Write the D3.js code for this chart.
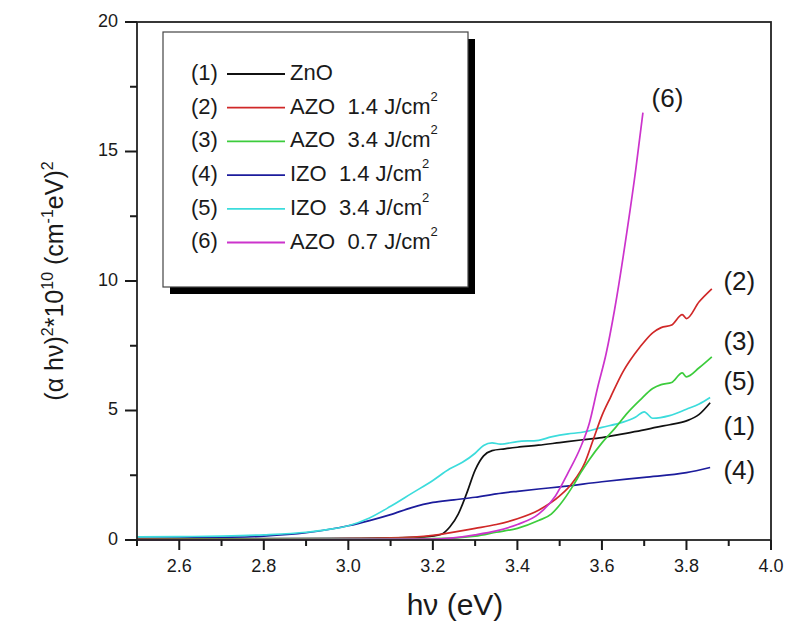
<!DOCTYPE html>
<html><head><meta charset="utf-8">
<script src="https://cdn.jsdelivr.net/npm/d3@7"></script>
<style>body{margin:0;background:#fff}svg{display:block}text{font-family:"Liberation Sans",Arial,sans-serif;fill:#1a1a1a;white-space:pre}</style>
</head><body><svg id="c" width="788" height="644"></svg>
<script>
// ----- data -----
const xTicks = [2.6, 2.8, 3.0, 3.2, 3.4, 3.6, 3.8, 4.0];
const xMinorTicks = [2.5, 2.7, 2.9, 3.1, 3.3, 3.5, 3.7, 3.9];
const yTicks = [0, 5, 10, 15, 20];
const yMinorTicks = [2.5, 7.5, 12.5, 17.5];
const seriesNames = ["ZnO", "AZO  1.4 J/cm", "AZO  3.4 J/cm", "IZO  1.4 J/cm", "IZO  3.4 J/cm", "AZO  0.7 J/cm"];
const seriesIds = ["(1)", "(2)", "(3)", "(4)", "(5)", "(6)"];
const seriesColors = ["#111111", "#d02828", "#3ccc3c", "#1c1c9c", "#3cdcdc", "#cc33cc"];
const s1 = [[2.5,0.05],[2.8,0.05],[3.0,0.06],[3.1,0.08],[3.18,0.12],[3.22,0.22],[3.24,0.5],[3.26,1.0],[3.28,1.8],[3.30,2.7],[3.32,3.25],[3.34,3.45],[3.37,3.52],[3.40,3.58],[3.45,3.66],[3.50,3.76],[3.55,3.86],[3.60,3.95],[3.65,4.1],[3.70,4.25],[3.73,4.36],[3.76,4.45],[3.80,4.6],[3.83,4.85],[3.856,5.3]];
const s2 = [[2.5,0.03],[2.9,0.04],[3.1,0.08],[3.2,0.18],[3.3,0.45],[3.35,0.6],[3.40,0.82],[3.45,1.15],[3.50,1.7],[3.53,2.2],[3.56,3.0],[3.58,3.9],[3.60,4.8],[3.62,5.5],[3.65,6.5],[3.69,7.45],[3.72,8.0],[3.74,8.2],[3.765,8.3],[3.79,8.7],[3.80,8.55],[3.83,9.2],[3.86,9.7]];
const s3 = [[2.5,0.02],[3.2,0.05],[3.3,0.15],[3.35,0.3],[3.40,0.45],[3.45,0.75],[3.48,1.0],[3.50,1.35],[3.53,2.05],[3.55,2.6],[3.57,3.1],[3.60,3.75],[3.63,4.3],[3.66,4.9],[3.69,5.4],[3.72,5.85],[3.74,6.0],[3.765,6.08],[3.79,6.45],[3.80,6.3],[3.83,6.65],[3.86,7.07]];
const s4 = [[2.5,0.06],[2.7,0.1],[2.8,0.15],[2.9,0.28],[3.0,0.55],[3.05,0.75],[3.10,0.98],[3.15,1.25],[3.20,1.45],[3.25,1.55],[3.30,1.65],[3.35,1.78],[3.40,1.88],[3.45,1.97],[3.50,2.05],[3.60,2.25],[3.70,2.42],[3.80,2.6],[3.856,2.8]];
const s5 = [[2.5,0.12],[2.6,0.13],[2.7,0.15],[2.8,0.2],[2.9,0.3],[2.95,0.4],[3.0,0.55],[3.05,0.85],[3.10,1.3],[3.15,1.8],[3.20,2.3],[3.24,2.75],[3.27,3.0],[3.30,3.35],[3.32,3.65],[3.34,3.75],[3.36,3.7],[3.40,3.8],[3.45,3.85],[3.48,3.98],[3.52,4.1],[3.55,4.15],[3.60,4.35],[3.65,4.55],[3.68,4.75],[3.70,4.95],[3.72,4.7],[3.76,4.8],[3.80,5.05],[3.83,5.25],[3.856,5.5]];
const s6 = [[2.5,0.0],[3.2,0.03],[3.3,0.2],[3.35,0.35],[3.40,0.6],[3.45,1.0],[3.49,1.7],[3.52,2.6],[3.55,3.6],[3.57,4.5],[3.59,5.9],[3.61,7.2],[3.63,8.9],[3.66,12.0],[3.68,14.3],[3.697,16.5]];
const allSeries = [s1, s2, s3, s4, s5, s6];
// curve end labels
const endLabels = [["(6)",3.755,17.0],["(2)",3.925,9.92],["(3)",3.925,7.6],["(5)",3.925,6.06],["(1)",3.925,4.32],["(4)",3.925,2.62]];

// ----- layout -----
const svg = d3.select("#c");
const L = 137, R = 771, T = 22, B = 540;
const x = d3.scaleLinear().domain([2.5, 4.0]).range([L, R]);
const y = d3.scaleLinear().domain([0, 20]).range([B, T]);
const axisColor = "#222";

// curves
const line = d3.line().x(d => x(d[0])).y(d => y(d[1])).curve(d3.curveMonotoneX);
const drawOrder = [0, 3, 4, 1, 2, 5];
drawOrder.forEach(i => {
  svg.append("path").datum(allSeries[i]).attr("d", line)
    .attr("fill", "none").attr("stroke", seriesColors[i]).attr("stroke-width", 1.7);
});

// frame
svg.append("rect").attr("x", L).attr("y", T).attr("width", R - L).attr("height", B - T)
  .attr("fill", "none").attr("stroke", axisColor).attr("stroke-width", 1.8);

// ticks (one path built from the scales)
const tickPath =
  xTicks.map(d => `M${x(d)},${B}V${B + 10}`).join("") +
  xMinorTicks.map(d => `M${x(d)},${B}V${B + 6}`).join("") +
  yTicks.map(d => `M${L - 12},${y(d)}H${L}`).join("") +
  yMinorTicks.map(d => `M${L - 7},${y(d)}H${L}`).join("");
svg.append("path").attr("d", tickPath).attr("fill", "none")
  .attr("stroke", "#1a1a1a").attr("stroke-width", 2);

svg.selectAll(".xl").data(xTicks).join("text").attr("class", "xl").attr("x", d => x(d)).attr("y", 567)
  .attr("text-anchor", "middle").attr("dominant-baseline", "middle").style("font-size", "18px")
  .text(d3.format(".1f"));
svg.selectAll(".yl").data(yTicks).join("text").attr("class", "yl").attr("x", L - 19).attr("y", d => y(d))
  .attr("text-anchor", "end").attr("dominant-baseline", "middle").style("font-size", "18px")
  .text(d => d);

// axis titles
svg.append("text").attr("x", 455).attr("y", 615).attr("text-anchor", "middle")
  .style("font-size", "30px").text("hν (eV)");
const yt = svg.append("text").attr("transform", "translate(63,281) rotate(-90)")
  .attr("text-anchor", "middle").style("font-size", "25px");
yt.append("tspan").text("(α hν)");
yt.append("tspan").attr("dy", -10).style("font-size", "16px").text("2");
yt.append("tspan").attr("dy", 10).text("*10");
yt.append("tspan").attr("dy", -10).style("font-size", "16px").text("10");
yt.append("tspan").attr("dy", 10).text(" (cm");
yt.append("tspan").attr("dy", -10).style("font-size", "16px").text("-1");
yt.append("tspan").attr("dy", 10).text("eV)");
yt.append("tspan").attr("dy", -10).style("font-size", "16px").text("2");

// curve end labels
endLabels.forEach(d => {
  svg.append("text").attr("x", x(d[1])).attr("y", y(d[2])).attr("text-anchor", "middle")
    .attr("dominant-baseline", "middle").style("font-size", "26px").text(d[0]);
});

// legend
const lg = svg.append("g");
lg.append("rect").attr("x", 170).attr("y", 39).attr("width", 305).attr("height", 255).attr("fill", "#000");
lg.append("rect").attr("x", 163).attr("y", 32).attr("width", 305).attr("height", 255)
  .attr("fill", "#fff").attr("stroke", "#444").attr("stroke-width", 1.2);
seriesNames.forEach((n, i) => {
  const cy = 74 + i * 33.7;
  lg.append("text").attr("x", 191).attr("y", cy).attr("dominant-baseline", "middle").style("font-size", "22px").text(seriesIds[i]);
  lg.append("line").attr("x1", 227).attr("x2", 285).attr("y1", cy).attr("y2", cy)
    .attr("stroke", seriesColors[i]).attr("stroke-width", 1.8);
  const t = lg.append("text").attr("x", 290).attr("y", cy).attr("dominant-baseline", "middle").style("font-size", "22px");
  t.append("tspan").text(n);
  if (i > 0) t.append("tspan").attr("dy", -10).style("font-size", "13px").text("2");
});
</script></body></html>
